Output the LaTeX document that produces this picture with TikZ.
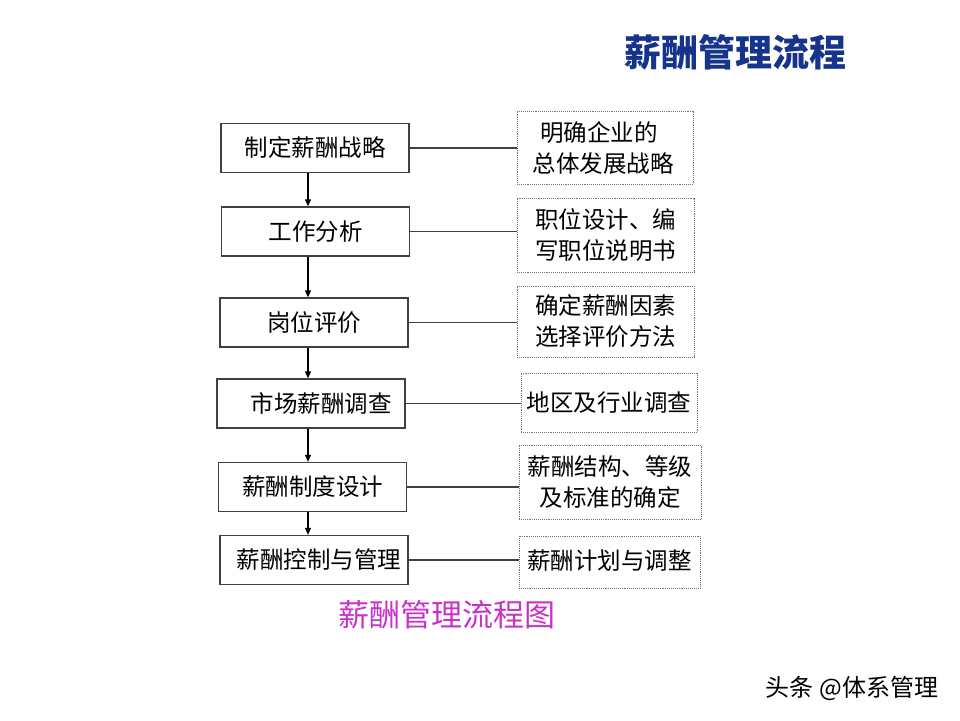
\documentclass[tikz,border=0pt]{standalone}
\usepackage{fontspec}
\setmainfont{Noto Sans CJK SC}
\usetikzlibrary{arrows.meta}
\definecolor{titleblue}{RGB}{22,52,140}
\definecolor{capmagenta}{RGB}{200,50,200}
\begin{document}
\begin{tikzpicture}[x=1pt,y=-1pt,
    stepbox/.style={draw=black!75, line width=1.3pt, minimum width=188pt, minimum height=49pt, inner sep=0pt, font=\fontsize{23.5}{27}\selectfont},
    notebox/.style={draw=black!55, densely dotted, line width=0.9pt, inner sep=0pt, align=center, font=\fontsize{23.5}{31}\selectfont},
    flow/.style={line width=1.1pt, -{Triangle[length=7pt,width=6pt]}},
    link/.style={line width=1.1pt, black!75}]
    \useasboundingbox (0,0) rectangle (960,720);
    \node[font=\fontsize{37}{41}\selectfont\bfseries, text=titleblue] (title) at (735,52) {薪酬管理流程};
    \node[stepbox] (s1) at (315,148) {制定薪酬战略};
    \node[stepbox] (s2) at (315.5,231.5) {工作分析};
    \node[stepbox] (s3) at (314,322.5) {岗位评价};
    \node[stepbox] (s4) at (311,403.5) {\hspace{20pt}市场薪酬调查};
    \node[stepbox] (s5) at (312.5,487) {薪酬制度设计};
    \node[stepbox] (s6) at (314,560) {\hspace{10pt}薪酬控制与管理};
    \node[notebox, minimum width=176pt, minimum height=73pt] (n1) at (605,147.5) {\hspace{-12pt}明确企业的\\\hspace{-4pt}总体发展战略};
    \node[notebox, minimum width=177pt, minimum height=74pt] (n2) at (605.5,235) {职位设计、编\\写职位说明书};
    \node[notebox, minimum width=177pt, minimum height=71pt] (n3) at (605.5,321.5) {确定薪酬因素\\选择评价方法};
    \node[notebox, minimum width=176pt, minimum height=59pt] (n4) at (609,402.5) {\raisebox{2pt}{地区及行业调查}};
    \node[notebox, minimum width=182pt, minimum height=74pt] (n5) at (610,482) {薪酬结构、等级\\及标准的确定};
    \node[notebox, minimum width=181pt, minimum height=52pt] (n6) at (609.5,562) {\raisebox{5pt}{薪酬计划与调整}};
    \coordinate (spine) at (308,0);
    \draw[flow] (s1.south -| spine) -- (s2.north -| spine);
    \draw[flow] (s2.south -| spine) -- (s3.north -| spine);
    \draw[flow] (s3.south -| spine) -- (s4.north -| spine);
    \draw[flow] (s4.south -| spine) -- (s5.north -| spine);
    \draw[flow] (s5.south -| spine) -- (s6.north -| spine);
    \draw[link] (s1.east) -- (s1.east -| n1.west);
    \draw[link] (s2.east) -- (s2.east -| n2.west);
    \draw[link] (s3.east) -- (s3.east -| n3.west);
    \draw[link] (s4.east) -- (s4.east -| n4.west);
    \draw[link] (s5.east) -- (s5.east -| n5.west);
    \draw[link] (s6.east) -- (s6.east -| n6.west);
    \node[font=\fontsize{31}{35}\selectfont, text=capmagenta] (caption) at (447,615) {薪酬管理流程图};
    \node[font=\fontsize{24}{28}\selectfont] (mark) at (852,688) {头条 @体系管理};
\end{tikzpicture}
\end{document}
